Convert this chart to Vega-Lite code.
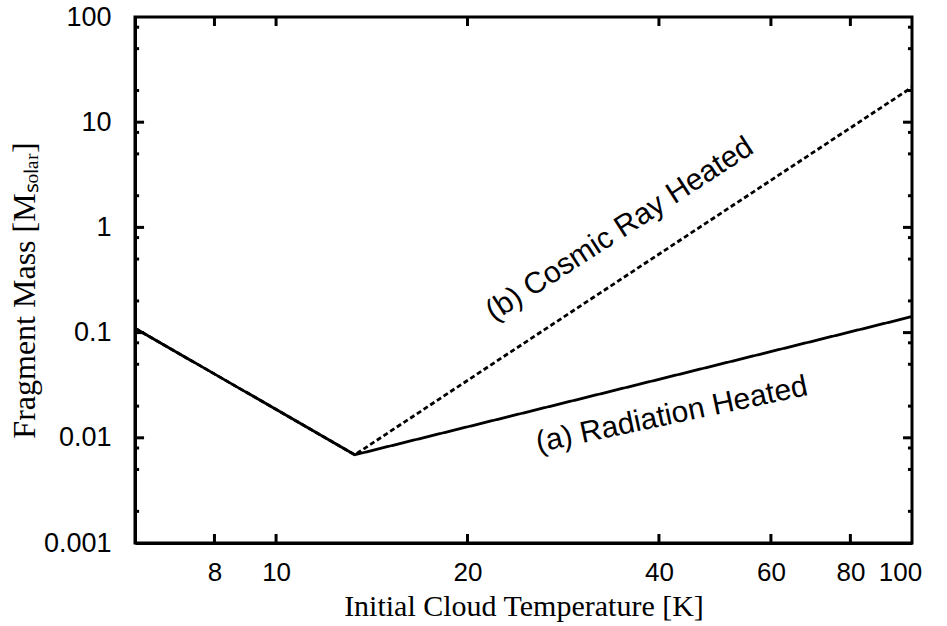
{
  "$schema": "https://vega.github.io/schema/vega-lite/v6.json",
  "width": 777,
  "height": 526,
  "autosize": {"type": "none"},
  "padding": {"left": 135, "top": 17, "right": 35, "bottom": 83},
  "background": "white",
  "datasets": {
    "xticks": [{"T": 8}, {"T": 10}, {"T": 20}, {"T": 40}, {"T": 60}, {"T": 80}],
    "ymajor": [{"M": 0.01}, {"M": 0.1}, {"M": 1}, {"M": 10}],
    "yminor": [{"M": 0.002}, {"M": 0.005}, {"M": 0.008}, {"M": 0.02}, {"M": 0.05}, {"M": 0.08}, {"M": 0.2}, {"M": 0.5}, {"M": 0.8}, {"M": 2}, {"M": 5}, {"M": 8}, {"M": 20}, {"M": 50}, {"M": 80}]
  },
  "config": {
    "view": {"stroke": "black", "strokeWidth": 3},
    "axis": {
      "grid": false,
      "domainColor": "black",
      "domainWidth": 3,
      "labelColor": "black",
      "titleColor": "black",
      "labelFont": "Liberation Sans",
      "labelFontSize": 26,
      "titleFont": "Liberation Serif",
      "titleFontSize": 30,
      "titleFontWeight": "normal"
    }
  },
  "layer": [
    {
      "data": {
        "values": [
          {"T": 6, "M": 0.11, "series": "(a) Radiation Heated"},
          {"T": 13.3, "M": 0.0069, "series": "(a) Radiation Heated"},
          {"T": 100, "M": 0.142, "series": "(a) Radiation Heated"},
          {"T": 6, "M": 0.11, "series": "(b) Cosmic Ray Heated"},
          {"T": 13.3, "M": 0.0069, "series": "(b) Cosmic Ray Heated"},
          {"T": 100, "M": 21.5, "series": "(b) Cosmic Ray Heated"}
        ]
      },
      "mark": {"type": "line", "color": "black", "strokeWidth": 2.8, "clip": true},
      "encoding": {
        "x": {
          "field": "T",
          "type": "quantitative",
          "scale": {"type": "log", "domain": [6, 100], "nice": false},
          "axis": {
            "orient": "bottom",
            "values": [8, 10, 20, 40, 60, 80, 100],
            "format": "~g",
            "ticks": false,
            "labelPadding": 16,
            "labelFlush": false,
            "labelOverlap": false,
            "labelOffset": {"condition": {"test": "datum.value == 100", "value": -12}, "value": 0},
            "title": "Initial Cloud Temperature [K]",
            "titleY": 72,
            "titleBaseline": "alphabetic"
          }
        },
        "y": {
          "field": "M",
          "type": "quantitative",
          "scale": {"type": "log", "domain": [0.001, 100], "nice": false},
          "axis": {
            "orient": "left",
            "values": [0.001, 0.01, 0.1, 1, 10, 100],
            "format": "~g",
            "ticks": false,
            "labelPadding": 24,
            "labelFlush": false,
            "labelOverlap": false,
            "labelBaseline": "middle",
            "labelFontSize": 27,
            "title": "Fragment Mass [Mₛₒₗₐᵣ]",
            "titleFontSize": 32,
            "titleX": -101,
            "titleY": 273,
            "titleBaseline": "alphabetic"
          }
        },
        "strokeDash": {
          "field": "series",
          "type": "nominal",
          "scale": {"domain": ["(a) Radiation Heated", "(b) Cosmic Ray Heated"], "range": [[1, 0], [5, 3]]},
          "legend": null
        }
      }
    },
    {
      "data": {"name": "xticks"},
      "mark": {"type": "rule", "color": "black", "strokeWidth": 3},
      "encoding": {
        "x": {"field": "T", "type": "quantitative"},
        "y": {"datum": 0.001, "type": "quantitative"},
        "y2": {"datum": 0.001218}
      }
    },
    {
      "data": {"name": "xticks"},
      "mark": {"type": "rule", "color": "black", "strokeWidth": 3},
      "encoding": {
        "x": {"field": "T", "type": "quantitative"},
        "y": {"datum": 100, "type": "quantitative"},
        "y2": {"datum": 82.1}
      }
    },
    {
      "data": {"name": "ymajor"},
      "mark": {"type": "rule", "color": "black", "strokeWidth": 3},
      "encoding": {
        "y": {"field": "M", "type": "quantitative"},
        "x": {"datum": 6, "type": "quantitative"},
        "x2": {"datum": 6.2}
      }
    },
    {
      "data": {"name": "ymajor"},
      "mark": {"type": "rule", "color": "black", "strokeWidth": 3},
      "encoding": {
        "y": {"field": "M", "type": "quantitative"},
        "x": {"datum": 100, "type": "quantitative"},
        "x2": {"datum": 96.8}
      }
    },
    {
      "data": {"name": "yminor"},
      "mark": {"type": "rule", "color": "black", "strokeWidth": 3},
      "encoding": {
        "y": {"field": "M", "type": "quantitative"},
        "x": {"datum": 6, "type": "quantitative"},
        "x2": {"datum": 6.09}
      }
    },
    {
      "data": {"name": "yminor"},
      "mark": {"type": "rule", "color": "black", "strokeWidth": 3},
      "encoding": {
        "y": {"field": "M", "type": "quantitative"},
        "x": {"datum": 100, "type": "quantitative"},
        "x2": {"datum": 98.55}
      }
    },
    {
      "data": {"values": [{"T": 34.7, "M": 0.96, "label": "(b) Cosmic Ray Heated"}]},
      "mark": {"type": "text", "angle": 327, "font": "Liberation Sans", "fontSize": 30, "align": "center", "baseline": "middle", "color": "black"},
      "encoding": {
        "x": {"field": "T", "type": "quantitative"},
        "y": {"field": "M", "type": "quantitative"},
        "text": {"field": "label"}
      }
    },
    {
      "data": {"values": [{"T": 41.9, "M": 0.01655, "label": "(a) Radiation Heated"}]},
      "mark": {"type": "text", "angle": 348, "font": "Liberation Sans", "fontSize": 30, "align": "center", "baseline": "middle", "color": "black"},
      "encoding": {
        "x": {"field": "T", "type": "quantitative"},
        "y": {"field": "M", "type": "quantitative"},
        "text": {"field": "label"}
      }
    }
  ]
}
